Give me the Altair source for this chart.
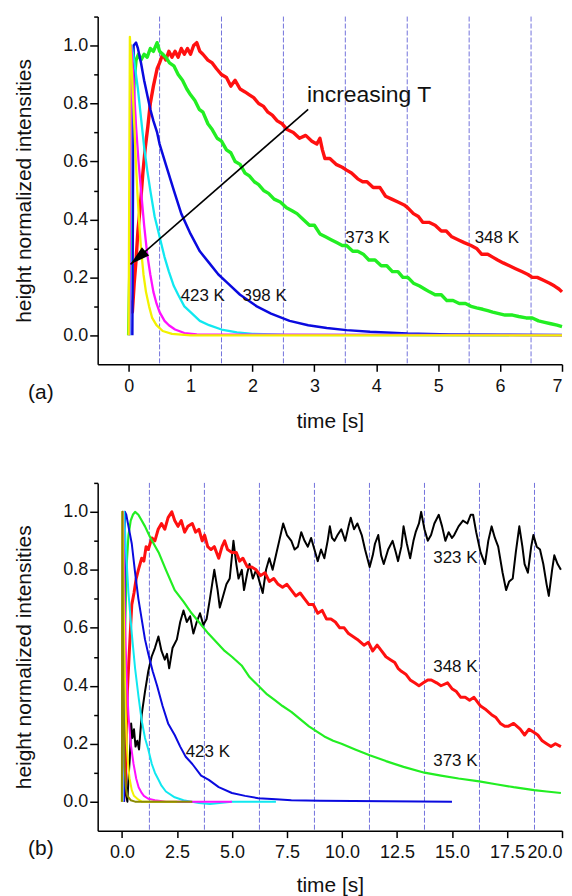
import altair as alt
import pandas as pd

# ---------------- data: panel (a) ----------------
a_red = [(0.03,0.12),(0.06,0.08),(0.09,0.18),(0.12,0.26),(0.15,0.36),(0.19,0.45),(0.23,0.56),(0.27,0.65),
         (0.31,0.72),(0.35,0.80),(0.40,0.86),(0.46,0.92),(0.50,0.94),(0.55,0.97),(0.60,0.95),(0.65,0.98),
         (0.70,0.96),(0.75,0.98),(0.80,0.96),(0.85,0.99),(0.90,0.97),(0.95,0.99),(1.00,0.97),(1.05,1.00),
         (1.10,1.01),(1.15,0.98),(1.20,0.97),(1.28,0.95),(1.35,0.94),(1.42,0.92),(1.50,0.90),(1.58,0.89),
         (1.65,0.86),(1.72,0.88),(1.80,0.85),(1.88,0.84),(1.95,0.83),(2.02,0.82),(2.10,0.80),(2.18,0.79),
         (2.25,0.77),(2.32,0.76),(2.40,0.74),(2.48,0.73),(2.56,0.71),(2.66,0.70),(2.76,0.68),(2.86,0.69),
         (2.96,0.67),(3.04,0.66),(3.09,0.68),(3.13,0.64),(3.17,0.61),(3.25,0.61),(3.35,0.59),(3.45,0.58),
         (3.52,0.57),(3.60,0.56),(3.70,0.54),(3.78,0.53),(3.85,0.53),(3.95,0.51),(4.06,0.51),(4.15,0.48),
         (4.25,0.47),(4.35,0.46),(4.45,0.45),(4.51,0.44),(4.60,0.42),(4.68,0.41),(4.75,0.39),(4.85,0.39),
         (4.95,0.38),(5.05,0.36),(5.13,0.36),(5.22,0.34),(5.32,0.33),(5.42,0.32),(5.53,0.31),(5.62,0.30),
         (5.70,0.28),(5.80,0.28),(5.88,0.27),(5.96,0.26),(6.05,0.25),(6.15,0.24),(6.25,0.23),(6.35,0.22),
         (6.45,0.21),(6.52,0.20),(6.60,0.20),(6.70,0.19),(6.80,0.18),(6.88,0.17),(6.95,0.16),(7.00,0.15)]
a_green = [(0.00,0.00),(0.03,0.35),(0.06,0.70),(0.09,0.88),(0.12,0.95),(0.16,0.97),(0.20,0.95),(0.25,0.97),
           (0.30,0.96),(0.35,0.99),(0.40,0.98),(0.46,1.01),(0.50,0.98),(0.55,0.97),(0.60,0.96),(0.66,0.94),
           (0.73,0.93),(0.80,0.90),(0.87,0.88),(0.94,0.85),(1.00,0.83),(1.07,0.81),(1.14,0.78),(1.20,0.77),
           (1.28,0.73),(1.35,0.71),(1.43,0.68),(1.50,0.67),(1.58,0.64),(1.65,0.63),(1.72,0.60),(1.80,0.59),
           (1.88,0.56),(1.95,0.55),(2.03,0.53),(2.10,0.52),(2.18,0.50),(2.26,0.49),(2.35,0.47),(2.45,0.46),
           (2.55,0.44),(2.64,0.43),(2.72,0.42),(2.82,0.40),(2.92,0.38),(3.00,0.38),(3.09,0.35),(3.18,0.34),
           (3.27,0.33),(3.36,0.32),(3.45,0.31),(3.52,0.31),(3.62,0.29),(3.70,0.29),(3.79,0.28),(3.88,0.26),
           (3.98,0.26),(4.08,0.24),(4.17,0.24),(4.26,0.22),(4.35,0.22),(4.43,0.20),(4.51,0.20),(4.60,0.18),
           (4.70,0.17),(4.78,0.16),(4.86,0.15),(4.95,0.14),(5.05,0.14),(5.14,0.12),(5.24,0.12),(5.34,0.11),
           (5.44,0.11),(5.53,0.10),(5.62,0.095),(5.72,0.09),(5.80,0.085),(5.88,0.08),(5.98,0.075),(6.08,0.07),
           (6.20,0.07),(6.30,0.065),(6.42,0.06),(6.52,0.06),(6.62,0.05),(6.72,0.045),(6.82,0.04),(6.92,0.035),
           (7.00,0.03)]
a_blue = [(0.06,0.0),(0.08,1.0),(0.12,1.01),(0.15,0.99),(0.20,0.94),(0.25,0.88),(0.30,0.83),(0.35,0.78),
          (0.40,0.74),(0.46,0.70),(0.50,0.66),(0.60,0.59),(0.73,0.50),(0.85,0.42),(1.00,0.35),(1.15,0.29),
          (1.30,0.25),(1.45,0.21),(1.60,0.18),(1.80,0.14),(2.07,0.10),(2.30,0.075),(2.60,0.05),(2.90,0.035),
          (3.20,0.025),(3.52,0.018),(3.90,0.012),(4.50,0.006),(5.20,0.003),(6.00,0.002),(7.00,0.001)]
a_cyan = [(0.02,0.0),(0.05,1.0),(0.10,0.93),(0.15,0.85),(0.20,0.75),(0.25,0.65),(0.30,0.57),(0.35,0.50),
          (0.42,0.41),(0.50,0.34),(0.58,0.27),(0.65,0.22),(0.73,0.17),(0.80,0.14),(0.90,0.10),(1.00,0.08),
          (1.15,0.05),(1.30,0.035),(1.50,0.02),(1.75,0.01),(2.00,0.005),(2.50,0.002),(7.00,0.0)]
a_magenta = [(0.01,0.0),(0.04,1.0),(0.08,0.88),(0.12,0.72),(0.16,0.60),(0.20,0.50),(0.25,0.38),(0.30,0.28),
             (0.35,0.21),(0.40,0.15),(0.45,0.11),(0.50,0.08),(0.58,0.05),(0.65,0.035),(0.75,0.02),(0.90,0.008),
             (1.10,0.003),(7.00,0.0)]
a_yellow = [(0.00,0.0),(0.02,1.03),(0.05,0.92),(0.08,0.78),(0.11,0.63),(0.14,0.50),(0.17,0.39),(0.20,0.30),
            (0.24,0.21),(0.28,0.15),(0.33,0.10),(0.38,0.06),(0.45,0.035),(0.55,0.015),(0.70,0.005),(1.00,0.0),
            (7.00,0.0)]

a_series = ["a 348 K", "a 373 K", "a 398 K", "a 423 K", "a 448 K", "a 473 K"]
a_colors = ["#ff1010", "#22ee22", "#0a0adf", "#10e8f0", "#ff10ff", "#f2f200"]
a_widths = [3.4, 3.4, 2.5, 2.3, 2.3, 2.3]
a_data = [a_red, a_green, a_blue, a_cyan, a_magenta, a_yellow]

a_grid = [0.5, 1.5, 2.5, 3.5, 4.5, 5.5, 6.5]
a_x_ticks = [0, 1, 2, 3, 4, 5, 6, 7]
a_y_ticks = [0.0, 0.1, 0.2, 0.3, 0.4, 0.5, 0.6, 0.7, 0.8, 0.9, 1.0, 1.1]
a_lbl_text = ["423 K", "398 K", "373 K", "348 K"]
a_lbl_t = [0.84, 1.84, 3.50, 5.59]
a_lbl_v = [0.135, 0.135, 0.335, 0.335]
a_arrow_t = [2.90, 0.03]
a_arrow_v = [0.78, 0.245]
a_note = "increasing T"
a_note_t = 2.88
a_note_v = 0.83

# ---------------- data: panel (b) ----------------
b_black = [(0.08,0.0),(0.12,0.03),(0.16,0.10),(0.20,0.02),(0.25,0.0),(0.30,0.08),(0.36,0.15),(0.42,0.27),
           (0.48,0.22),(0.55,0.25),(0.62,0.19),(0.70,0.21),(0.78,0.18),(0.90,0.30),(1.05,0.38),(1.20,0.45),
           (1.35,0.50),(1.50,0.53),(1.66,0.57),(1.80,0.52),(1.95,0.49),(2.05,0.51),(2.15,0.46),(2.30,0.53),
           (2.50,0.56),(2.65,0.62),(2.80,0.66),(2.95,0.62),(3.10,0.64),(3.25,0.58),(3.40,0.62),(3.55,0.65),
           (3.70,0.61),(3.85,0.63),(4.00,0.70),(4.20,0.80),(4.35,0.73),(4.45,0.67),(4.60,0.71),(4.75,0.75),
           (4.90,0.77),(5.07,0.90),(5.20,0.82),(5.30,0.77),(5.45,0.80),(5.55,0.73),(5.70,0.79),(5.80,0.82),
           (5.95,0.77),(6.10,0.80),(6.25,0.76),(6.40,0.72),(6.55,0.80),(6.70,0.84),(6.85,0.80),(7.00,0.85),
           (7.15,0.90),(7.33,0.96),(7.50,0.92),(7.70,0.90),(7.85,0.87),(8.00,0.88),(8.15,0.93),(8.30,0.90),
           (8.45,0.88),(8.60,0.91),(8.75,0.87),(8.90,0.83),(9.05,0.87),(9.20,0.84),(9.35,0.90),(9.45,0.95),
           (9.55,0.91),(9.66,0.90),(9.80,0.92),(9.97,0.94),(10.15,0.90),(10.30,0.95),(10.40,0.98),(10.55,0.94),
           (10.70,0.96),(10.90,0.92),(11.05,0.87),(11.26,0.81),(11.40,0.85),(11.50,0.89),(11.65,0.92),(11.78,0.85),
           (11.90,0.82),(12.10,0.87),(12.30,0.90),(12.45,0.86),(12.55,0.83),(12.70,0.88),(12.80,0.95),(12.95,0.89),
           (13.10,0.84),(13.25,0.90),(13.35,0.93),(13.50,0.96),(13.60,1.00),(13.75,0.94),(13.90,0.90),(14.05,0.92),
           (14.20,0.96),(14.40,0.99),(14.55,0.95),(14.70,0.90),(14.85,0.93),(15.00,0.91),(15.10,0.92),(15.30,0.95),
           (15.50,0.97),(15.70,0.96),(15.85,0.99),(15.96,0.99),(16.10,0.93),(16.30,0.86),(16.50,0.82),(16.65,0.90),
           (16.80,0.95),(16.95,0.91),(17.10,0.88),(17.30,0.79),(17.46,0.73),(17.60,0.76),(17.76,0.77),(17.90,0.86),
           (18.06,0.95),(18.20,0.88),(18.30,0.82),(18.45,0.79),(18.60,0.88),(18.70,0.92),(18.85,0.88),(19.00,0.87),
           (19.15,0.82),(19.30,0.75),(19.40,0.71),(19.55,0.80),(19.65,0.85),(19.80,0.82),(19.95,0.80)]
b_red = [(0.08,0.0),(0.12,0.10),(0.16,0.05),(0.20,0.25),(0.25,0.38),(0.30,0.46),(0.38,0.58),(0.45,0.68),
         (0.55,0.72),(0.65,0.77),(0.75,0.80),(0.90,0.84),(1.00,0.83),(1.10,0.88),(1.20,0.87),(1.36,0.91),
         (1.50,0.90),(1.65,0.94),(1.80,0.96),(1.95,0.94),(2.10,0.98),(2.27,1.00),(2.40,0.97),(2.55,0.95),
         (2.70,0.97),(2.85,0.93),(3.00,0.95),(3.20,0.96),(3.35,0.93),(3.50,0.94),(3.65,0.90),(3.76,0.92),
         (3.90,0.88),(4.05,0.87),(4.20,0.88),(4.40,0.84),(4.55,0.88),(4.67,0.90),(4.80,0.87),(5.00,0.86),
         (5.20,0.86),(5.35,0.83),(5.50,0.84),(5.70,0.81),(5.90,0.81),(6.10,0.80),(6.30,0.78),(6.50,0.79),
         (6.70,0.76),(6.90,0.77),(7.10,0.75),(7.30,0.74),(7.50,0.75),(7.70,0.73),(7.90,0.71),(8.10,0.72),
         (8.30,0.70),(8.50,0.68),(8.70,0.68),(8.90,0.65),(9.10,0.66),(9.30,0.63),(9.50,0.63),(9.70,0.62),
         (9.90,0.60),(10.10,0.60),(10.30,0.58),(10.50,0.57),(10.70,0.56),(11.00,0.54),(11.20,0.55),(11.40,0.52),
         (11.60,0.54),(11.80,0.52),(12.00,0.50),(12.20,0.49),(12.40,0.48),(12.55,0.46),(12.70,0.45),(12.90,0.44),
         (13.10,0.42),(13.30,0.41),(13.50,0.40),(13.70,0.41),(13.90,0.42),(14.06,0.42),(14.30,0.41),(14.50,0.40),
         (14.80,0.41),(15.00,0.39),(15.20,0.38),(15.40,0.36),(15.60,0.36),(15.80,0.35),(16.00,0.36),(16.30,0.33),
         (16.50,0.32),(16.80,0.30),(17.00,0.29),(17.20,0.27),(17.40,0.26),(17.55,0.26),(17.80,0.27),(18.10,0.25),
         (18.30,0.23),(18.50,0.25),(18.70,0.24),(18.90,0.23),(19.10,0.21),(19.30,0.20),(19.50,0.19),(19.70,0.20),
         (19.95,0.19)]
b_green = [(0.04,0.0),(0.10,0.35),(0.15,0.60),(0.22,0.82),(0.30,0.92),(0.40,0.97),(0.50,0.99),(0.60,1.00),
           (0.75,0.99),(0.90,0.97),(1.05,0.95),(1.30,0.91),(1.67,0.86),(2.00,0.80),(2.40,0.73),(2.80,0.69),
           (3.17,0.65),(3.50,0.62),(3.93,0.58),(4.30,0.55),(4.67,0.52),(5.00,0.50),(5.44,0.47),(5.80,0.43),
           (6.20,0.40),(6.60,0.37),(6.95,0.35),(7.30,0.33),(7.70,0.31),(8.10,0.285),(8.50,0.26),(8.90,0.24),
           (9.20,0.225),(9.60,0.21),(9.98,0.20),(10.60,0.18),(11.26,0.16),(12.00,0.14),(12.80,0.12),(13.75,0.10),
           (14.50,0.09),(15.30,0.08),(16.24,0.07),(17.00,0.06),(17.80,0.05),(18.73,0.04),(19.30,0.035),(19.95,0.03)]
b_blue = [(0.10,0.0),(0.14,1.00),(0.20,0.99),(0.30,0.95),(0.45,0.89),(0.60,0.79),(0.75,0.70),(0.90,0.63),
          (1.05,0.56),(1.20,0.51),(1.40,0.45),(1.60,0.40),(1.85,0.33),(2.10,0.27),(2.40,0.23),(2.65,0.19),
          (2.90,0.155),(3.20,0.13),(3.60,0.09),(3.95,0.075),(4.40,0.05),(5.00,0.03),(5.60,0.02),(6.20,0.012),
          (7.00,0.008),(7.70,0.005),(9.00,0.003),(10.50,0.002),(12.00,0.001),(15.00,0.0)]
b_cyan = [(0.05,0.0),(0.10,1.00),(0.20,0.85),(0.30,0.72),(0.45,0.58),(0.60,0.46),(0.76,0.36),(0.90,0.28),
          (1.05,0.22),(1.20,0.18),(1.36,0.13),(1.50,0.10),(1.67,0.075),(1.80,0.055),(2.00,0.035),(2.40,0.015),
          (2.80,0.005),(3.50,-0.005),(4.00,-0.008),(5.00,0.0),(7.00,0.0)]
b_magenta = [(0.02,0.0),(0.05,1.00),(0.10,0.78),(0.15,0.60),(0.22,0.42),(0.30,0.30),(0.40,0.20),(0.53,0.13),
             (0.65,0.08),(0.76,0.05),(0.90,0.03),(1.00,0.02),(1.20,0.01),(1.50,0.005),(2.00,0.0),(5.00,0.0)]
b_yellow = [(0.00,0.0),(0.03,1.00),(0.07,0.75),(0.12,0.50),(0.17,0.32),(0.22,0.20),(0.28,0.13),(0.35,0.08),
            (0.45,0.04),(0.55,0.02),(0.70,0.01),(0.90,0.0),(2.50,0.0)]
b_olive = [(0.00,0.0),(0.02,1.00),(0.05,0.60),(0.08,0.30),(0.12,0.12),(0.18,0.05),(0.25,0.02),(0.40,0.005),
           (0.60,0.0),(3.20,0.0)]

b_series = ["b 323 K", "b 348 K", "b 373 K", "b 423 K", "b 448 K", "b 473 K", "b 498 K", "b 523 K"]
b_colors = ["#000000", "#ff1010", "#22ee22", "#0a0adf", "#10e8f0", "#ff10ff", "#f2f200", "#8a8a00"]
b_widths = [2.0, 3.0, 2.2, 2.0, 2.0, 2.0, 2.0, 2.0]
b_data = [b_black, b_red, b_green, b_blue, b_cyan, b_magenta, b_yellow, b_olive]

b_grid = [1.25, 3.75, 6.25, 8.75, 11.25, 13.75, 16.25, 18.75]
b_x_ticks = [0.0, 2.5, 5.0, 7.5, 10.0, 12.5, 15.0, 17.5, 20.0]
b_y_ticks = [0.0, 0.1, 0.2, 0.3, 0.4, 0.5, 0.6, 0.7, 0.8, 0.9, 1.0, 1.1]
b_lbl_text = ["423 K", "373 K", "348 K", "323 K"]
b_lbl_t = [2.90, 14.15, 14.15, 14.15]
b_lbl_v = [0.17, 0.14, 0.466, 0.84]

x_title = "time [s]"
y_title = "height normalized intensities"

FONT = "Liberation Sans"
W, H = 466, 349


def lines_frame(series, data, widths):
    rows = []
    for name, pts, w in zip(series, data, widths):
        for t, v in pts:
            rows.append({"t": t, "v": v, "s": name, "w": w})
    return pd.DataFrame(rows)


def y_axis(ticks):
    return alt.Axis(
        values=ticks,
        labelExpr="round(datum.value*10) % 2 == 0 ? format(datum.value, '.1f') : ''",
        tickSize={"condition": {"test": "round(datum.value*10) % 2 == 0", "value": 8}, "value": 4},
        title=y_title, titlePadding=28, labelPadding=2,
    )


def panel(series, colors, widths, data, grid, xticks, xfmt, yticks, xdom, lbl_text, lbl_t, lbl_v,
          tag, tag_y, title_pad, extra=None):
    xs = alt.Scale(domain=xdom, nice=False, zero=False)
    ys = alt.Scale(domain=[-0.1, 1.1], nice=False, zero=False)
    xax = alt.Axis(values=xticks, format=xfmt, tickSize=7, labelPadding=6, title=x_title,
                   titlePadding=title_pad, labelFlush=True)
    X = alt.X("t:Q", scale=xs, axis=xax)
    Y = alt.Y("v:Q", scale=ys, axis=y_axis(yticks))

    g = alt.Chart(pd.DataFrame({"t": grid})).mark_rule(
        color="#5a5ad6", strokeWidth=1, strokeDash=[5, 2], opacity=0.85
    ).encode(x=X)

    ln = alt.Chart(lines_frame(series, data, widths)).mark_line(strokeJoin="round").encode(
        x=X, y=Y,
        color=alt.Color("s:N", scale=alt.Scale(domain=series, range=colors), legend=None),
        strokeWidth=alt.StrokeWidth("w:Q", scale=None),
        detail="s:N",
    )

    lb = alt.Chart(pd.DataFrame({"t": lbl_t, "v": lbl_v, "txt": lbl_text})).mark_text(
        align="left", baseline="middle", font=FONT, fontSize=17, color="#111"
    ).encode(x=X, y=Y, text="txt:N")

    tg = alt.Chart(pd.DataFrame({"txt": [tag]})).mark_text(
        align="center", baseline="middle", font=FONT, fontSize=21, color="#111"
    ).encode(x=alt.value(-57), y=alt.value(tag_y), text="txt:N")

    layers = [g, ln, lb, tg]
    if extra is not None:
        layers += extra(X, Y)
    return alt.layer(*layers).properties(width=W, height=H)


def arrow_layers(X, Y):
    arr = pd.DataFrame({"t": a_arrow_t, "v": a_arrow_v, "o": [0, 1]})
    line = alt.Chart(arr).mark_line(color="#000", strokeWidth=1.6).encode(x=X, y=Y, order="o:Q")
    head = alt.Chart(arr.iloc[[1]]).mark_point(
        shape="M0,0L0.55,2L-0.55,2Z", filled=True, color="#000", opacity=1, size=400, angle=229
    ).encode(x=X, y=Y)
    note = alt.Chart(pd.DataFrame({"t": [a_note_t], "v": [a_note_v], "txt": [a_note]})).mark_text(
        align="left", baseline="middle", font=FONT, fontSize=23, color="#111"
    ).encode(x=X, y=Y, text="txt:N")
    return [line, head, note]


top = panel(a_series, a_colors, a_widths, a_data, a_grid, a_x_ticks, "d", a_y_ticks, [-0.5, 7],
            a_lbl_text, a_lbl_t, a_lbl_v, "(a)", H + 29, 15, extra=arrow_layers)
bottom = panel(b_series, b_colors, b_widths, b_data, b_grid, b_x_ticks, ".1f", b_y_ticks, [-1.1, 20],
               b_lbl_text, b_lbl_t, b_lbl_v, "(b)", H + 18, 13)

chart = alt.vconcat(top, bottom, spacing=51).resolve_scale(color="independent").properties(
    padding={"left": 5, "top": 6, "right": 0, "bottom": 0}
).configure_view(stroke=None).configure_axis(
    grid=False, domainColor="#000", domainWidth=1.5, tickColor="#000", tickWidth=1.5,
    labelFont=FONT, labelFontSize=18, labelColor="#111",
    titleFont=FONT, titleFontSize=21, titleFontWeight="normal", titleColor="#111",
)

chart.save("out.html", embed_options={"renderer": "svg", "actions": False})
